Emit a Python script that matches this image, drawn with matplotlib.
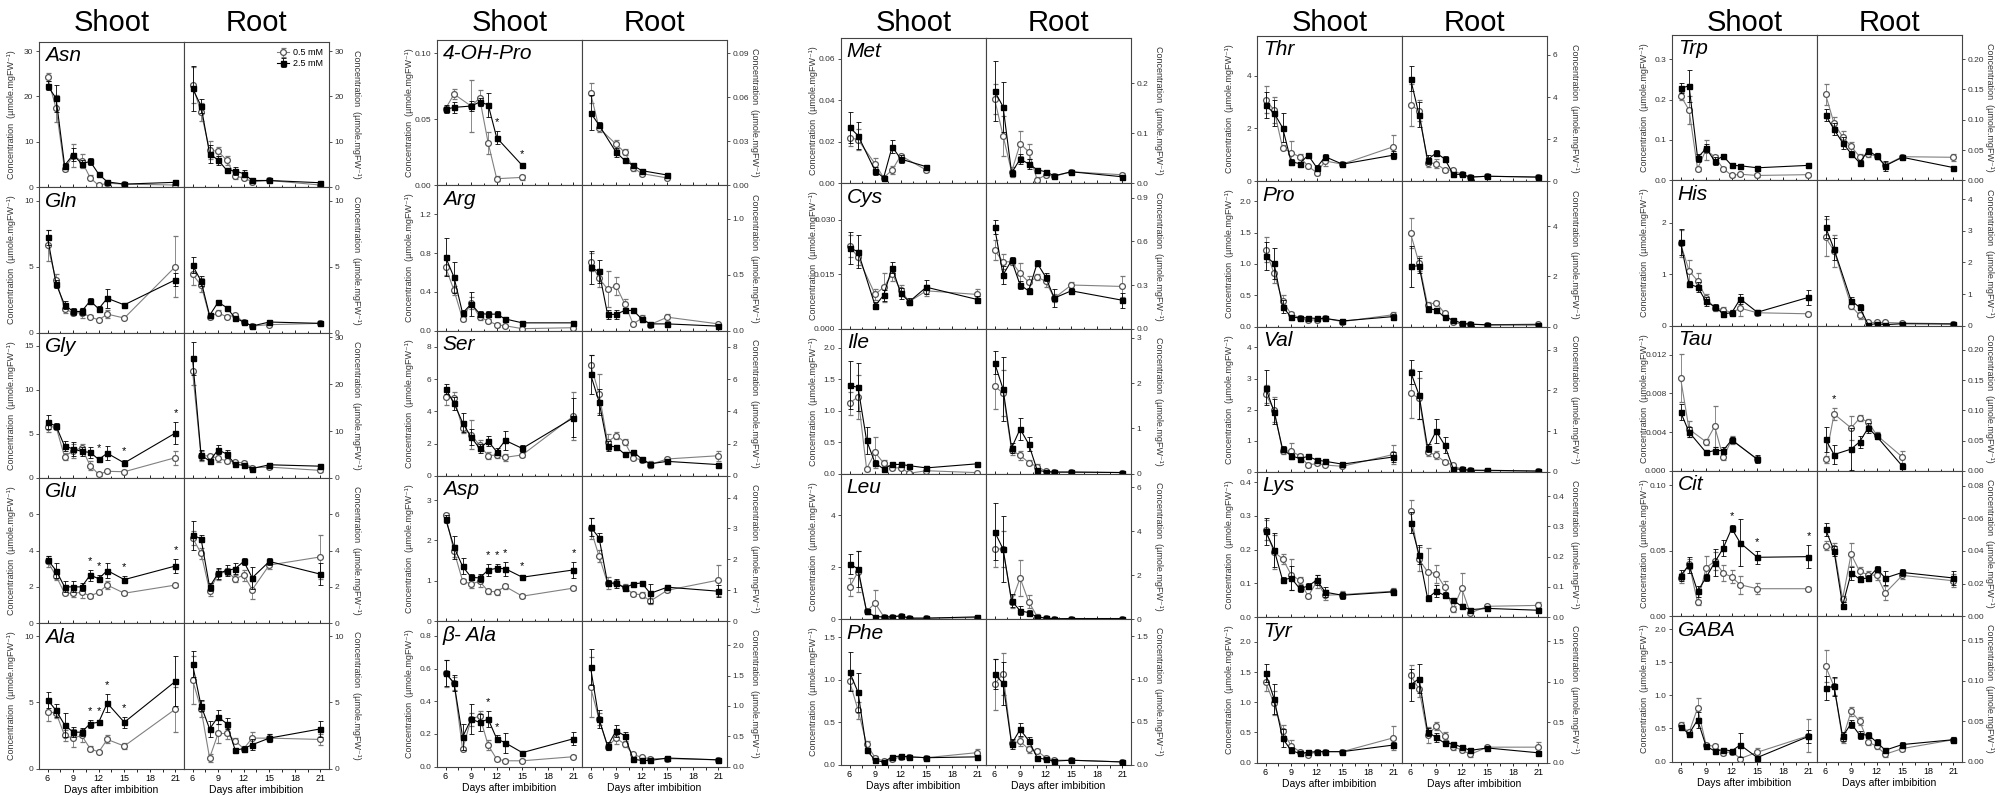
import numpy as np
import matplotlib
matplotlib.use('agg')
import matplotlib.pyplot as plt
from matplotlib.ticker import FormatStrFormatter, MultipleLocator

plt.rcParams['font.family'] = ['Liberation Sans', 'DejaVu Sans']

days = [6, 7, 8, 9, 10, 11, 12, 13, 15, 21]
days_a = [6, 7, 9, 10, 11, 12, 15]
days_b = [6, 7, 9, 10, 11, 12, 13, 15, 21]

# lo = 0.5 mM (open circles), hi = 2.5 mM (filled squares), *_err = error bars
# ---- column 1
asn_shoot = dict(lo=[24.3, 17.4, 4.0, 7.0, 5.8, 2.1, 0.4, 0.9, 0.7, 0.5],
                 hi=[22.4, 19.6, 4.8, 7.2, 5.2, 5.7, 2.9, 1.2, 0.7, 1.1],
                 lo_err=[0.8, 3, 0.5, 2.5, 1.5, 0.5, 0.3, 0.3, 0.3, 0.3],
                 hi_err=[1, 3, 0.5, 1.5, 0.8, 0.8, 0.3, 0.3, 0.3, 0.3])
asn_root = dict(lo=[22.5, 16.5, 8.2, 7.9, 6.0, 2.4, 2.1, 1.2, 1.5, 0.5],
                hi=[21.8, 17.9, 7.4, 6.0, 3.8, 3.6, 3.0, 1.5, 1.5, 1.0],
                lo_err=[4, 2, 2, 1, 1, 0.5, 0.5, 0.5, 0.3, 0.3],
                hi_err=[5, 1.5, 2, 1, 0.5, 0.8, 0.8, 0.5, 0.3, 0.3])
gln_shoot = dict(lo=[6.6, 4.0, 1.8, 1.5, 1.5, 1.2, 0.95, 1.4, 1.1, 5.0],
                 hi=[7.2, 3.7, 2.1, 1.6, 1.6, 2.4, 1.8, 2.6, 2.1, 4.0],
                 lo_err=[1.2, 0.4, 0.3, 0.2, 0.4, 0.1, 0.1, 0.3, 0.1, 2.3],
                 hi_err=[0.6, 0.3, 0.3, 0.3, 0.3, 0.2, 0.2, 0.7, 0.1, 0.5])
gln_root = dict(lo=[4.4, 3.6, 1.2, 1.5, 1.2, 1.3, 0.8, 0.5, 0.6, 0.7],
                hi=[5.1, 3.9, 1.3, 2.3, 1.9, 1.1, 0.8, 0.5, 0.8, 0.7],
                lo_err=[0.8, 0.5, 0.2, 0.2, 0.1, 0.1, 0.1, 0.1, 0.1, 0.1],
                hi_err=[0.6, 0.4, 0.2, 0.1, 0.1, 0.1, 0.1, 0.1, 0.1, 0.1])
gly_shoot = dict(lo=[5.8, 5.8, 2.4, 3.1, 3.4, 1.4, 0.4, 0.75, 0.7, 2.3],
                 hi=[6.3, 5.9, 3.6, 3.3, 3.0, 2.9, 2.1, 2.8, 1.7, 5.1],
                 lo_err=[0.6, 0.3, 0.4, 0.8, 0.5, 0.5, 0.2, 0.2, 0.2, 0.8],
                 hi_err=[0.8, 0.3, 0.6, 0.8, 0.5, 0.6, 0.3, 0.8, 0.3, 1.3],
                 stars=[12, 15, 21])
gly_root = dict(lo=[22.8, 4.7, 4.7, 4.2, 3.6, 3.4, 3.2, 2.2, 2.3, 1.6],
                hi=[25.5, 4.9, 3.6, 6.0, 5.1, 2.9, 2.7, 2.0, 2.8, 2.5],
                lo_err=[3, 1, 0.5, 0.8, 0.5, 0.3, 0.3, 0.3, 0.3, 0.3],
                hi_err=[3.5, 1, 0.5, 1, 0.8, 0.3, 0.3, 0.3, 0.3, 0.3])
glu_shoot = dict(lo=[3.4, 2.6, 1.65, 1.65, 1.7, 1.5, 1.7, 2.1, 1.65, 2.1],
                 hi=[3.5, 2.9, 2.0, 2.0, 2.0, 2.65, 2.45, 2.9, 2.4, 3.15],
                 lo_err=[0.3, 0.2, 0.1, 0.2, 0.3, 0.1, 0.1, 0.2, 0.1, 0.1],
                 hi_err=[0.2, 0.4, 0.3, 0.3, 0.2, 0.3, 0.2, 0.4, 0.2, 0.4],
                 stars=[11, 12, 15, 21])
glu_root = dict(lo=[4.7, 3.85, 1.8, 2.7, 2.85, 2.45, 2.65, 1.85, 3.2, 3.65],
                hi=[4.85, 4.65, 2.0, 2.75, 2.9, 3.0, 3.4, 2.5, 3.4, 2.7],
                lo_err=[0.4, 0.3, 0.3, 0.3, 0.2, 0.2, 0.3, 0.5, 0.2, 1.2],
                hi_err=[0.8, 0.2, 0.2, 0.3, 0.3, 0.3, 0.2, 0.6, 0.2, 0.6])
ala_shoot = dict(lo=[4.3, 4.2, 2.5, 2.3, 2.5, 1.5, 1.25, 2.2, 1.7, 4.5],
                 hi=[5.2, 4.4, 3.3, 2.75, 2.75, 3.4, 3.5, 4.95, 3.5, 6.6],
                 lo_err=[0.7, 0.4, 0.4, 0.7, 0.5, 0.2, 0.1, 0.3, 0.2, 1.7],
                 hi_err=[0.6, 0.5, 0.9, 0.4, 0.3, 0.3, 0.2, 0.7, 0.4, 1.9],
                 stars=[11, 12, 13, 15])
ala_root = dict(lo=[6.7, 4.5, 0.8, 2.65, 2.65, 2.1, 1.5, 2.3, 2.3, 2.2],
                hi=[7.9, 4.75, 3.0, 3.9, 3.4, 1.4, 1.5, 1.8, 2.3, 3.0],
                lo_err=[1.8, 0.6, 0.3, 0.7, 0.4, 0.2, 0.2, 0.5, 0.3, 0.4],
                hi_err=[1.0, 0.4, 0.6, 0.5, 0.4, 0.1, 0.2, 0.4, 0.3, 0.6])

# ---- column 2
ohp_shoot = dict(lo=[0.058, 0.069, 0.060, 0.066, 0.032, 0.005, 0.006],
                 hi=[0.0575, 0.059, 0.060, 0.063, 0.061, 0.036, 0.015],
                 lo_err=[0.002, 0.004, 0.02, 0.006, 0.008, 0.002, 0.002],
                 hi_err=[0.003, 0.004, 0.004, 0.003, 0.009, 0.005, 0.002],
                 stars=[12, 15])
ohp_root = dict(lo=[0.063, 0.039, 0.028, 0.0225, 0.012, 0.008, 0.005],
                hi=[0.0495, 0.041, 0.0225, 0.017, 0.0135, 0.010, 0.007],
                lo_err=[0.007, 0.003, 0.003, 0.002, 0.002, 0.001, 0.001],
                hi_err=[0.012, 0.002, 0.003, 0.001, 0.001, 0.001, 0.001])
arg_shoot = dict(lo=[0.655, 0.415, 0.12, 0.285, 0.14, 0.10, 0.06, 0.05, 0.02, 0.03],
                 hi=[0.76, 0.55, 0.18, 0.275, 0.175, 0.17, 0.17, 0.12, 0.08, 0.08],
                 lo_err=[0.08, 0.05, 0.02, 0.06, 0.03, 0.02, 0.02, 0.01, 0.01, 0.01],
                 hi_err=[0.2, 0.16, 0.03, 0.12, 0.03, 0.03, 0.03, 0.02, 0.01, 0.01])
arg_root = dict(lo=[0.61, 0.47, 0.37, 0.40, 0.24, 0.06, 0.11, 0.054, 0.12, 0.06],
                hi=[0.565, 0.53, 0.145, 0.145, 0.18, 0.18, 0.105, 0.06, 0.06, 0.04],
                lo_err=[0.08, 0.08, 0.16, 0.08, 0.04, 0.01, 0.03, 0.01, 0.03, 0.01],
                hi_err=[0.15, 0.1, 0.04, 0.04, 0.02, 0.01, 0.02, 0.01, 0.01, 0.01])
ser_shoot = dict(lo=[4.9, 4.8, 2.95, 2.55, 1.9, 1.25, 1.3, 1.15, 1.3, 3.7],
                 hi=[5.4, 4.5, 3.3, 2.4, 1.7, 2.15, 1.5, 2.2, 1.7, 3.6],
                 lo_err=[0.5, 0.4, 0.3, 0.9, 0.3, 0.2, 0.2, 0.2, 0.1, 1.5],
                 hi_err=[0.3, 0.4, 0.6, 0.5, 0.3, 0.3, 0.2, 0.6, 0.2, 1.2])
ser_root = dict(lo=[6.9, 5.1, 2.1, 2.5, 2.1, 1.1, 1.0, 0.7, 1.05, 1.25],
                hi=[6.3, 4.6, 1.85, 1.8, 1.35, 1.5, 1.05, 0.75, 0.9, 0.7],
                lo_err=[0.6, 1.2, 0.5, 0.2, 0.2, 0.1, 0.1, 0.2, 0.1, 0.3],
                hi_err=[1.2, 0.8, 0.3, 0.1, 0.1, 0.1, 0.1, 0.1, 0.1, 0.1])
asp_shoot = dict(lo=[2.62, 1.73, 1.0, 0.92, 0.99, 0.74, 0.73, 0.86, 0.62, 0.82],
                 hi=[2.54, 1.83, 1.36, 1.09, 1.07, 1.27, 1.31, 1.30, 1.09, 1.27],
                 lo_err=[0.05, 0.15, 0.05, 0.1, 0.15, 0.07, 0.08, 0.06, 0.05, 0.05],
                 hi_err=[0.1, 0.28, 0.2, 0.08, 0.1, 0.15, 0.1, 0.17, 0.05, 0.2],
                 stars=[11, 12, 13, 15, 21])
asp_root = dict(lo=[3.0, 2.1, 1.23, 1.23, 1.1, 0.88, 0.86, 0.65, 1.0, 1.33],
                hi=[3.05, 2.7, 1.23, 1.23, 1.08, 1.2, 1.24, 0.9, 1.1, 0.97],
                lo_err=[0.35, 0.2, 0.2, 0.1, 0.1, 0.05, 0.1, 0.1, 0.05, 0.5],
                hi_err=[0.3, 0.15, 0.1, 0.15, 0.1, 0.05, 0.05, 0.3, 0.05, 0.2])
bala_shoot = dict(lo=[0.57, 0.51, 0.105, 0.29, 0.31, 0.13, 0.045, 0.035, 0.035, 0.06],
                  hi=[0.575, 0.51, 0.18, 0.29, 0.27, 0.29, 0.17, 0.145, 0.085, 0.17],
                  lo_err=[0.08, 0.04, 0.01, 0.04, 0.03, 0.03, 0.01, 0.01, 0.01, 0.01],
                  hi_err=[0.08, 0.05, 0.08, 0.09, 0.05, 0.05, 0.02, 0.06, 0.01, 0.04],
                  stars=[11, 12])
bala_root = dict(lo=[1.31, 0.78, 0.33, 0.47, 0.37, 0.2, 0.15, 0.13, 0.13, 0.11],
                 hi=[1.64, 0.78, 0.34, 0.59, 0.51, 0.12, 0.1, 0.1, 0.14, 0.11],
                 lo_err=[0.5, 0.1, 0.05, 0.1, 0.05, 0.02, 0.02, 0.02, 0.01, 0.01],
                 hi_err=[0.3, 0.15, 0.06, 0.1, 0.06, 0.03, 0.02, 0.02, 0.02, 0.01])

# ---- column 3
met_shoot = dict(lo=[0.022, 0.021, 0.0093, 0.0027, 0.0064, 0.0133, 0.0064],
                 hi=[0.027, 0.023, 0.006, 0.0027, 0.0177, 0.0117, 0.008],
                 lo_err=[0.004, 0.005, 0.003, 0.001, 0.002, 0.001, 0.001],
                 hi_err=[0.0075, 0.0065, 0.002, 0.001, 0.003, 0.002, 0.001])
met_root = dict(lo=[0.169, 0.095, 0.023, 0.079, 0.063, 0.007, 0.017, 0.014, 0.023, 0.017],
                hi=[0.184, 0.153, 0.021, 0.048, 0.039, 0.027, 0.023, 0.015, 0.023, 0.013],
                lo_err=[0.03, 0.04, 0.01, 0.025, 0.015, 0.005, 0.005, 0.004, 0.004, 0.004],
                hi_err=[0.06, 0.05, 0.005, 0.01, 0.01, 0.004, 0.004, 0.004, 0.003, 0.003])
cys_shoot = dict(lo=[0.0228, 0.0196, 0.0094, 0.0114, 0.015, 0.0106, 0.0074, 0.0104, 0.0094],
                 hi=[0.0222, 0.0212, 0.0063, 0.0092, 0.0168, 0.0097, 0.0074, 0.0114, 0.008],
                 lo_err=[0.003, 0.002, 0.0015, 0.004, 0.002, 0.0015, 0.0008, 0.0015, 0.0015],
                 hi_err=[0.0045, 0.0045, 0.001, 0.0015, 0.0015, 0.0015, 0.001, 0.002, 0.001])
cys_root = dict(lo=[0.54, 0.46, 0.46, 0.38, 0.32, 0.355, 0.325, 0.21, 0.30, 0.29],
                hi=[0.70, 0.37, 0.47, 0.30, 0.26, 0.45, 0.355, 0.21, 0.26, 0.195],
                lo_err=[0.07, 0.05, 0.02, 0.07, 0.04, 0.02, 0.04, 0.03, 0.02, 0.07],
                hi_err=[0.05, 0.06, 0.02, 0.03, 0.02, 0.02, 0.03, 0.06, 0.02, 0.05])
ile_shoot = dict(lo=[1.12, 1.22, 0.08, 0.34, 0.17, 0.09, 0.1, 0.01, 0.05, 0.02],
                 hi=[1.40, 1.37, 0.53, 0.17, 0.08, 0.15, 0.15, 0.13, 0.095, 0.16],
                 lo_err=[0.18, 0.35, 0.03, 0.25, 0.05, 0.03, 0.04, 0.02, 0.02, 0.01],
                 hi_err=[0.38, 0.38, 0.22, 0.05, 0.03, 0.03, 0.04, 0.02, 0.01, 0.02])
ile_root = dict(lo=[1.93, 1.78, 0.52, 0.41, 0.25, 0.16, 0.06, 0.04, 0.04, 0.03],
                hi=[2.45, 1.87, 0.57, 0.99, 0.66, 0.08, 0.05, 0.04, 0.04, 0.03],
                lo_err=[0.5, 0.5, 0.1, 0.1, 0.05, 0.05, 0.02, 0.02, 0.02, 0.02],
                hi_err=[0.25, 0.7, 0.1, 0.25, 0.15, 0.05, 0.02, 0.02, 0.02, 0.02])
leu_shoot = dict(lo=[1.23, 1.83, 0.3, 0.62, 0.1, 0.09, 0.13, 0.04, 0.04, 0.06],
                 hi=[2.13, 1.94, 0.3, 0.1, 0.09, 0.09, 0.13, 0.04, 0.04, 0.09],
                 lo_err=[0.35, 0.8, 0.1, 0.5, 0.05, 0.05, 0.05, 0.03, 0.03, 0.03],
                 hi_err=[0.4, 0.7, 0.1, 0.05, 0.05, 0.05, 0.05, 0.03, 0.03, 0.03])
leu_root = dict(lo=[3.19, 3.19, 0.79, 1.87, 0.8, 0.12, 0.05, 0.02, 0.03, 0.03],
                hi=[3.98, 3.19, 0.84, 0.38, 0.3, 0.1, 0.05, 0.02, 0.03, 0.03],
                lo_err=[0.8, 0.8, 0.3, 0.8, 0.3, 0.1, 0.05, 0.03, 0.03, 0.03],
                hi_err=[1.3, 1.5, 0.3, 0.2, 0.1, 0.05, 0.03, 0.03, 0.03, 0.03])
phe_shoot = dict(lo=[0.98, 0.64, 0.24, 0.08, 0.04, 0.06, 0.09, 0.09, 0.08, 0.14],
                 hi=[1.09, 0.85, 0.17, 0.05, 0.03, 0.09, 0.1, 0.09, 0.08, 0.09],
                 lo_err=[0.1, 0.1, 0.04, 0.02, 0.02, 0.02, 0.02, 0.02, 0.02, 0.04],
                 hi_err=[0.23, 0.23, 0.03, 0.02, 0.02, 0.02, 0.02, 0.02, 0.01, 0.02])
phe_root = dict(lo=[0.94, 1.06, 0.25, 0.27, 0.18, 0.16, 0.08, 0.05, 0.05, 0.03],
                hi=[1.06, 0.95, 0.24, 0.41, 0.28, 0.08, 0.06, 0.04, 0.05, 0.03],
                lo_err=[0.3, 0.25, 0.04, 0.05, 0.04, 0.02, 0.02, 0.02, 0.01, 0.01],
                hi_err=[0.18, 0.25, 0.06, 0.08, 0.04, 0.02, 0.02, 0.02, 0.01, 0.01])

# ---- column 4
thr_shoot = dict(lo=[3.09, 2.7, 1.27, 1.08, 0.93, 0.57, 0.33, 0.77, 0.65, 1.31],
                 hi=[2.88, 2.58, 2.03, 0.74, 0.67, 0.99, 0.52, 0.93, 0.65, 0.99],
                 lo_err=[0.5, 0.5, 0.1, 0.45, 0.1, 0.05, 0.1, 0.2, 0.05, 0.45],
                 hi_err=[0.5, 0.5, 0.55, 0.1, 0.05, 0.1, 0.1, 0.1, 0.05, 0.15])
thr_root = dict(lo=[3.63, 3.36, 0.88, 0.84, 0.55, 0.52, 0.33, 0.2, 0.24, 0.2],
                hi=[4.87, 3.16, 1.03, 1.34, 1.07, 0.33, 0.33, 0.2, 0.24, 0.2],
                lo_err=[1.0, 0.5, 0.2, 0.2, 0.1, 0.05, 0.05, 0.03, 0.03, 0.03],
                hi_err=[0.6, 0.6, 0.2, 0.15, 0.15, 0.05, 0.05, 0.03, 0.03, 0.03])
pro_shoot = dict(lo=[1.23, 0.85, 0.41, 0.2, 0.14, 0.1, 0.11, 0.13, 0.08, 0.19],
                 hi=[1.13, 1.01, 0.32, 0.15, 0.14, 0.14, 0.13, 0.13, 0.09, 0.16],
                 lo_err=[0.2, 0.15, 0.1, 0.03, 0.03, 0.02, 0.03, 0.02, 0.02, 0.05],
                 hi_err=[0.22, 0.25, 0.1, 0.03, 0.03, 0.02, 0.03, 0.02, 0.02, 0.04])
pro_root = dict(lo=[3.73, 2.53, 0.87, 0.96, 0.53, 0.17, 0.1, 0.09, 0.07, 0.1],
                hi=[2.4, 2.43, 0.71, 0.67, 0.37, 0.27, 0.13, 0.1, 0.07, 0.07],
                lo_err=[0.6, 0.3, 0.1, 0.05, 0.05, 0.05, 0.03, 0.03, 0.02, 0.02],
                hi_err=[0.8, 0.3, 0.1, 0.05, 0.05, 0.05, 0.03, 0.03, 0.02, 0.02])
val_shoot = dict(lo=[2.5, 2.0, 0.67, 0.67, 0.52, 0.22, 0.27, 0.22, 0.18, 0.56],
                 hi=[2.71, 1.94, 0.73, 0.52, 0.43, 0.5, 0.38, 0.34, 0.25, 0.48],
                 lo_err=[0.3, 0.4, 0.1, 0.25, 0.05, 0.05, 0.05, 0.03, 0.03, 0.3],
                 hi_err=[0.55, 0.4, 0.1, 0.1, 0.05, 0.05, 0.05, 0.05, 0.05, 0.15])
val_root = dict(lo=[1.93, 1.81, 0.49, 0.41, 0.25, 0.16, 0.06, 0.04, 0.03, 0.02],
                hi=[2.46, 1.89, 0.59, 1.0, 0.66, 0.08, 0.06, 0.04, 0.04, 0.02],
                lo_err=[0.6, 0.5, 0.1, 0.1, 0.05, 0.04, 0.03, 0.02, 0.02, 0.02],
                hi_err=[0.3, 0.6, 0.1, 0.3, 0.2, 0.04, 0.03, 0.02, 0.02, 0.02])
lys_shoot = dict(lo=[0.257, 0.193, 0.173, 0.126, 0.109, 0.062, 0.105, 0.065, 0.067, 0.077],
                 hi=[0.255, 0.2, 0.11, 0.116, 0.085, 0.092, 0.11, 0.074, 0.065, 0.075],
                 lo_err=[0.03, 0.05, 0.015, 0.045, 0.01, 0.005, 0.02, 0.015, 0.01, 0.008],
                 hi_err=[0.04, 0.05, 0.01, 0.035, 0.01, 0.01, 0.015, 0.015, 0.01, 0.008])
lys_root = dict(lo=[0.351, 0.191, 0.15, 0.144, 0.1, 0.028, 0.095, 0.014, 0.036, 0.039],
                hi=[0.312, 0.207, 0.062, 0.086, 0.072, 0.056, 0.036, 0.025, 0.029, 0.023],
                lo_err=[0.035, 0.04, 0.08, 0.03, 0.02, 0.01, 0.05, 0.005, 0.005, 0.01],
                hi_err=[0.035, 0.03, 0.01, 0.02, 0.01, 0.005, 0.005, 0.005, 0.005, 0.005])
tyr_shoot = dict(lo=[1.33, 0.98, 0.52, 0.28, 0.18, 0.13, 0.18, 0.18, 0.18, 0.41],
                 hi=[1.48, 1.06, 0.4, 0.2, 0.15, 0.17, 0.18, 0.18, 0.18, 0.29],
                 lo_err=[0.15, 0.2, 0.1, 0.1, 0.03, 0.03, 0.02, 0.02, 0.02, 0.2],
                 hi_err=[0.15, 0.25, 0.15, 0.05, 0.03, 0.03, 0.03, 0.02, 0.02, 0.05])
tyr_root = dict(lo=[1.08, 0.91, 0.34, 0.45, 0.33, 0.19, 0.16, 0.1, 0.19, 0.19],
                hi=[0.96, 1.04, 0.38, 0.31, 0.24, 0.23, 0.19, 0.15, 0.18, 0.12],
                lo_err=[0.13, 0.1, 0.1, 0.05, 0.05, 0.03, 0.03, 0.03, 0.02, 0.06],
                hi_err=[0.2, 0.18, 0.05, 0.05, 0.03, 0.03, 0.02, 0.03, 0.02, 0.02])

# ---- column 5
trp_shoot = dict(lo=[0.21, 0.174, 0.029, 0.076, 0.058, 0.029, 0.012, 0.015, 0.012, 0.014],
                 hi=[0.228, 0.234, 0.056, 0.079, 0.048, 0.06, 0.037, 0.036, 0.031, 0.037],
                 lo_err=[0.01, 0.035, 0.005, 0.025, 0.005, 0.005, 0.003, 0.003, 0.003, 0.004],
                 hi_err=[0.012, 0.04, 0.01, 0.01, 0.01, 0.005, 0.005, 0.005, 0.003, 0.004])
trp_root = dict(lo=[0.142, 0.094, 0.072, 0.056, 0.039, 0.043, 0.04, 0.025, 0.039, 0.038],
                hi=[0.108, 0.084, 0.062, 0.044, 0.029, 0.049, 0.04, 0.024, 0.038, 0.021],
                lo_err=[0.017, 0.01, 0.01, 0.008, 0.005, 0.005, 0.005, 0.005, 0.003, 0.006],
                hi_err=[0.01, 0.01, 0.01, 0.005, 0.005, 0.005, 0.005, 0.008, 0.003, 0.003])
his_shoot = dict(lo=[1.6, 1.07, 0.87, 0.54, 0.34, 0.31, 0.25, 0.34, 0.25, 0.23],
                 hi=[1.63, 0.81, 0.75, 0.47, 0.37, 0.23, 0.25, 0.52, 0.26, 0.55],
                 lo_err=[0.27, 0.2, 0.15, 0.08, 0.05, 0.05, 0.05, 0.15, 0.05, 0.03],
                 hi_err=[0.25, 0.05, 0.1, 0.08, 0.05, 0.05, 0.05, 0.1, 0.05, 0.15])
his_root = dict(lo=[2.79, 2.37, 0.63, 0.32, 0.1, 0.1, 0.1, 0.08, 0.06],
                hi=[3.12, 2.42, 0.79, 0.58, 0.03, 0.06, 0.03, 0.06, 0.05],
                lo_err=[0.6, 0.5, 0.1, 0.1, 0.03, 0.03, 0.03, 0.03, 0.03],
                hi_err=[0.35, 0.35, 0.1, 0.1, 0.03, 0.03, 0.03, 0.03, 0.03])
tau_shoot = dict(lo=[0.0096, 0.0043, 0.003, 0.0046, 0.0014, 0.0032, 0.0012],
                 hi=[0.0061, 0.004, 0.0019, 0.0021, 0.0021, 0.0032, 0.0012],
                 lo_err=[0.0025, 0.0008, 0.0003, 0.0021, 0.0003, 0.0004, 0.0003],
                 hi_err=[0.0008, 0.0005, 0.0002, 0.0004, 0.0004, 0.0003, 0.0004])
tau_root = dict(lo=[0.019, 0.094, 0.071, 0.087, 0.081, 0.059, 0.023],
                hi=[0.052, 0.027, 0.036, 0.048, 0.071, 0.057, 0.008],
                lo_err=[0.006, 0.01, 0.02, 0.005, 0.005, 0.005, 0.01],
                hi_err=[0.02, 0.015, 0.035, 0.01, 0.008, 0.005, 0.005],
                stars=[7])
cit_shoot = dict(lo=[0.029, 0.04, 0.0106, 0.037, 0.042, 0.033, 0.030, 0.024, 0.021, 0.021],
                 hi=[0.031, 0.039, 0.019, 0.0296, 0.041, 0.052, 0.067, 0.056, 0.045, 0.0455],
                 lo_err=[0.004, 0.004, 0.002, 0.009, 0.007, 0.006, 0.005, 0.007, 0.004, 0.001],
                 hi_err=[0.004, 0.006, 0.004, 0.003, 0.01, 0.006, 0.003, 0.018, 0.005, 0.009],
                 stars=[12, 15, 21])
cit_root = dict(lo=[0.0433, 0.0417, 0.0106, 0.038, 0.0274, 0.0254, 0.025, 0.0142, 0.025, 0.0217],
                hi=[0.0533, 0.04, 0.0065, 0.0264, 0.0228, 0.0234, 0.029, 0.0234, 0.0268, 0.0234],
                lo_err=[0.003, 0.003, 0.002, 0.007, 0.003, 0.002, 0.003, 0.004, 0.002, 0.004],
                hi_err=[0.004, 0.003, 0.002, 0.004, 0.002, 0.002, 0.002, 0.004, 0.002, 0.004])
gaba_shoot = dict(lo=[0.55, 0.44, 0.81, 0.25, 0.23, 0.13, 0.15, 0.045, 0.14, 0.39],
                  hi=[0.52, 0.42, 0.63, 0.23, 0.16, 0.18, 0.16, 0.25, 0.06, 0.38],
                  lo_err=[0.05, 0.03, 0.15, 0.03, 0.03, 0.03, 0.03, 0.02, 0.06, 0.25],
                  hi_err=[0.03, 0.03, 0.12, 0.04, 0.03, 0.03, 0.03, 0.18, 0.03, 0.1])
gaba_root = dict(lo=[0.118, 0.093, 0.028, 0.062, 0.05, 0.024, 0.019, 0.009, 0.016, 0.027],
                 hi=[0.091, 0.093, 0.031, 0.047, 0.033, 0.033, 0.024, 0.014, 0.021, 0.027],
                 lo_err=[0.02, 0.01, 0.005, 0.006, 0.005, 0.003, 0.004, 0.003, 0.003, 0.003],
                 hi_err=[0.015, 0.012, 0.005, 0.005, 0.005, 0.003, 0.004, 0.003, 0.003, 0.003])

# panel table: name, shoot data, shoot days, shoot axis, root data, root days, root axis
# axis = (ymax, ticks, decimals)
columns = [
    [("Asn", asn_shoot, days, (32, [0, 10, 20, 30], 0), asn_root, days, (32, [0, 10, 20, 30], 0)),
     ("Gln", gln_shoot, days, (11, [0, 5, 10], 0), gln_root, days, (11, [0, 5, 10], 0)),
     ("Gly", gly_shoot, days, (16.5, [0, 5, 10, 15], 0), gly_root, days, (31, [0, 10, 20, 30], 0)),
     ("Glu", glu_shoot, days, (8, [0, 2, 4, 6], 0), glu_root, days, (8, [0, 2, 4, 6], 0)),
     ("Ala", ala_shoot, days, (11, [0, 5, 10], 0), ala_root, days, (11, [0, 5, 10], 0))],
    [("4-OH-Pro", ohp_shoot, days_a, (0.11, [0, 0.05, 0.10], 2), ohp_root, days_a, (0.099, [0, 0.03, 0.06, 0.09], 2)),
     ("Arg", arg_shoot, days, (1.5, [0, 0.4, 0.8, 1.2], 1), arg_root, days, (1.3, [0, 0.5, 1.0], 1)),
     ("Ser", ser_shoot, days, (9, [0, 2, 4, 6, 8], 0), ser_root, days, (9, [0, 2, 4, 6, 8], 0)),
     ("Asp", asp_shoot, days, (3.6, [0, 1, 2, 3], 0), asp_root, days, (4.7, [0, 1, 2, 3, 4], 0)),
     ("β- Ala", bala_shoot, days, (0.89, [0, 0.2, 0.4, 0.6, 0.8], 1), bala_root, days, (2.4, [0, 0.5, 1.0, 1.5, 2.0], 1))],
    [("Met", met_shoot, days_a, (0.07, [0, 0.02, 0.04, 0.06], 2), met_root, days, (0.29, [0, 0.1, 0.2], 1)),
     ("Cys", cys_shoot, days_b, (0.040, [0, 0.015, 0.030], 3), cys_root, days, (1.0, [0, 0.3, 0.6, 0.9], 1)),
     ("Ile", ile_shoot, days, (2.3, [0, 0.5, 1.0, 1.5, 2.0], 1), ile_root, days, (3.2, [0, 1, 2, 3], 0)),
     ("Leu", leu_shoot, days, (5.6, [0, 2, 4], 0), leu_root, days, (6.6, [0, 2, 4, 6], 0)),
     ("Phe", phe_shoot, days, (1.71, [0, 0.5, 1.0, 1.5], 1), phe_root, days, (1.7, [0, 0.5, 1.0, 1.5], 1))],
    [("Thr", thr_shoot, days, (5.5, [0, 2, 4], 0), thr_root, days, (6.9, [0, 2, 4, 6], 0)),
     ("Pro", pro_shoot, days, (2.32, [0, 0.5, 1.0, 1.5, 2.0], 1), pro_root, days, (5.8, [0, 2, 4], 0)),
     ("Val", val_shoot, days, (4.67, [0, 1, 2, 3, 4], 0), val_root, days, (3.57, [0, 1, 2, 3], 0)),
     ("Lys", lys_shoot, days, (0.43, [0, 0.1, 0.2, 0.3, 0.4], 1), lys_root, days, (0.48, [0, 0.1, 0.2, 0.3, 0.4], 1)),
     ("Tyr", tyr_shoot, days, (2.41, [0, 0.5, 1.0, 1.5, 2.0], 1), tyr_root, days, (1.8, [0, 0.5, 1.0, 1.5], 1))],
    [("Trp", trp_shoot, days, (0.36, [0, 0.1, 0.2, 0.3], 1), trp_root, days, (0.24, [0, 0.05, 0.10, 0.15, 0.20], 2)),
     ("His", his_shoot, days, (2.83, [0, 1, 2], 0), his_root, days_b, (4.6, [0, 1, 2, 3, 4], 0)),
     ("Tau", tau_shoot, days_a, (0.015, [0, 0.004, 0.008, 0.012], 3), tau_root, days_a, (0.24, [0, 0.05, 0.10, 0.15, 0.20], 2)),
     ("Cit", cit_shoot, days, (0.111, [0, 0.05, 0.10], 2), cit_root, days, (0.089, [0, 0.02, 0.04, 0.06, 0.08], 2)),
     ("GABA", gaba_shoot, days, (2.2, [0, 0.5, 1.0, 1.5, 2.0], 1), gaba_root, days, (0.18, [0, 0.05, 0.10, 0.15], 2))],
]

W, H = 2006, 795
col_left = [39, 437, 841, 1257, 1672]
col_top = [42, 40, 38, 36, 35]
PW, PH = 145, 145.3
ylab = "Concentration  (µmole.mgFW⁻¹)"


def box(x, y, w, h):
    return [x / W, 1 - (y + h) / H, w / W, h / H]


def draw(ax, d, xd, spec, side, bottom):
    ymax, ticks, dec = spec
    lo, hi = np.array(d['lo'], float), np.array(d['hi'], float)
    elo, ehi = np.array(d['lo_err'], float), np.array(d['hi_err'], float)
    l1 = ax.errorbar(xd, lo, yerr=elo, color='#808080', marker='o', ms=4.2, mfc='white',
                     mec='#555555', mew=0.9, lw=0.8, elinewidth=0.6, capsize=1.8,
                     capthick=0.6, ecolor='#777777', zorder=3, label='0.5 mM')
    l2 = ax.errorbar(xd, hi, yerr=ehi, color='black', marker='s', ms=3.6, lw=0.8,
                     elinewidth=0.6, capsize=1.8, capthick=0.6, zorder=4, label='2.5 mM')
    for s in d.get('stars', []):
        i = xd.index(s)
        top = max(lo[i] + elo[i], hi[i] + ehi[i])
        ax.text(s, top + 0.06 * ymax, '*', ha='center', va='center', fontsize=8)
    ax.set_xlim(5.0, 22.0)
    ax.set_ylim(0, ymax)
    ax.set_yticks(ticks)
    ax.yaxis.set_major_formatter(FormatStrFormatter('%%.%df' % dec))
    ax.xaxis.set_major_locator(MultipleLocator(3))
    ax.xaxis.set_minor_locator(MultipleLocator(1.5))
    for sp in ax.spines.values():
        sp.set_linewidth(0.8)
        sp.set_color('#444444')
    ax.tick_params(axis='y', labelsize=6, length=2.5, width=0.6, colors='#333333', pad=1.5)
    if side == 'right':
        ax.yaxis.tick_right()
        ax.yaxis.set_label_position('right')
        ax.set_ylabel(ylab, rotation=-90, fontsize=6.5, color='#333333', va='center', ha='center')
        ax.yaxis.set_label_coords(1.19, 0.5)
    else:
        ax.set_ylabel(ylab, rotation=90, fontsize=6.5, color='#333333', va='center', ha='center')
        ax.yaxis.set_label_coords(-0.19, 0.5)
    if bottom:
        ax.tick_params(axis='x', which='both', direction='out', labelsize=6.5, width=0.6, pad=1.5)
        ax.tick_params(axis='x', which='major', length=2.5)
        ax.tick_params(axis='x', which='minor', length=1.8)
        ax.set_xlabel('Days after imbibition', fontsize=7.5, labelpad=1.5)
    else:
        ax.tick_params(axis='x', which='both', direction='in', labelbottom=False, width=0.6)
        ax.tick_params(axis='x', which='major', length=2.5)
        ax.tick_params(axis='x', which='minor', length=1.8)
    return l1, l2


fig = plt.figure(figsize=(W / 100, H / 100), dpi=100)

for c, rows in enumerate(columns):
    x0, y0 = col_left[c], col_top[c]
    for r, (name, sd, sdays, sspec, rd, rdays, rspec) in enumerate(rows):
        bottom = r == len(rows) - 1
        ax_s = fig.add_axes(box(x0, y0 + r * PH, PW, PH))
        ax_r = fig.add_axes(box(x0 + PW, y0 + r * PH, PW, PH))
        draw(ax_s, sd, sdays, sspec, 'left', bottom)
        handles = draw(ax_r, rd, rdays, rspec, 'right', bottom)
        ax_s.text(0.04, 0.97, name, transform=ax_s.transAxes, ha='left', va='top',
                  fontsize=15, style='italic')
        if r == 0:
            fig.text((x0 + PW / 2) / W, 1 - 23 / H, 'Shoot', ha='center', va='center', fontsize=21)
            fig.text((x0 + 1.5 * PW) / W, 1 - 23 / H, 'Root', ha='center', va='center', fontsize=21)
            if c == 0:
                ax_r.legend(handles=list(handles), loc='upper right', fontsize=6.5, frameon=False,
                            handlelength=1.3, handletextpad=0.4, borderaxespad=0.3,
                            labelspacing=0.2)

plt.savefig('out.png', dpi=100)
